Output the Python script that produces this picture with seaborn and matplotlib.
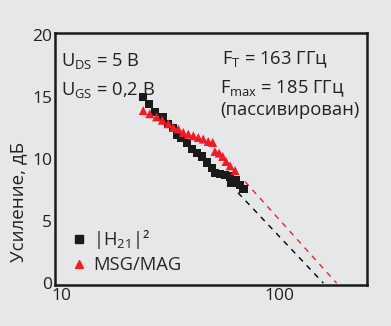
import matplotlib
matplotlib.use("Agg")
import matplotlib.pyplot as plt
import seaborn as sns
import pandas as pd
from matplotlib.lines import Line2D

# Data
h21_f = [23.7, 25.2, 26.9, 29.3, 30.9, 32.6, 33.8, 35.6, 37.6, 39.6, 41.8, 44.1,
         46.5, 49.0, 50.7, 53.5, 56.4, 59.5, 60.5, 63.4, 66.1, 68.5]
h21_y = [15.04, 14.47, 13.82, 13.39, 12.87, 12.52, 11.98, 11.71, 11.31, 10.85, 10.50, 10.23,
         9.74, 9.29, 8.88, 8.83, 8.74, 8.61, 8.07, 8.34, 7.94, 7.61]
msg_f = [23.7, 25.4, 27.3, 29.0, 30.9, 32.6, 34.4, 36.2, 38.2, 40.3, 42.5, 44.8,
         47.2, 49.5, 50.7, 53.0, 55.0, 57.0, 59.5, 62.7]
msg_y = [13.93, 13.68, 13.42, 13.15, 12.87, 12.57, 12.44, 12.17, 12.03, 11.90, 11.76, 11.63,
         11.44, 11.36, 10.63, 10.50, 10.23, 9.82, 9.47, 9.09]
ext_h21_f = [64.7, 160.0]
ext_h21_y = [7.3, 0.0]
ext_msg_f = [69.7, 184.0]
ext_msg_y = [8.2, 0.0]
xticks = [10, 100]
yticks = [0, 5, 10, 15, 20]

BG = "#e6e7e9"
sns.set_theme(style="white")
plt.rcParams['font.family'] = ['Open Sans', 'DejaVu Sans']
plt.rcParams['mathtext.fontset'] = 'custom'
plt.rcParams['mathtext.rm'] = 'Open Sans'
plt.rcParams['mathtext.it'] = 'Open Sans'

fig = plt.figure(figsize=(3.91, 3.26), dpi=100, facecolor=BG)
ax = fig.add_axes([0.1407, 0.1258, 0.7979, 0.773])
ax.set_facecolor(BG)

df_h = pd.DataFrame({"f": h21_f, "g": h21_y})
df_m = pd.DataFrame({"f": msg_f, "g": msg_y})

ax.plot(ext_h21_f, ext_h21_y, ls=(0, (4, 4)), color="black", lw=1.0, zorder=1)
ax.plot(ext_msg_f, ext_msg_y, ls=(0, (4, 4)), color="#e8252b", lw=1.0, zorder=1)
sns.scatterplot(data=df_h, x="f", y="g", marker="s", color="#1a1a1a", s=36,
                edgecolor="none", ax=ax, zorder=3)
sns.scatterplot(data=df_m, x="f", y="g", marker="^", color="#ee1c25", s=42,
                edgecolor="none", ax=ax, zorder=4)

ax.set_xscale("log")
ax.set_xlim(9.3, 254)
ax.set_ylim(-0.15, 20.2)
ax.set_xticks(xticks)
ax.set_xticklabels([str(t) for t in xticks])
ax.xaxis.set_minor_locator(matplotlib.ticker.NullLocator())
ax.set_yticks(yticks)
ax.tick_params(axis="both", length=0, labelsize=12.5, colors="#222222", pad=2)
ax.set_xlabel("")
ax.set_ylabel("Усиление, дБ", fontsize=13.5, color="#222222")
ax.yaxis.set_label_coords(-0.09, 0.33)
for sp in ax.spines.values():
    sp.set_color("#1a1a1a")
    sp.set_linewidth(1.8)

tc = "#222222"
fs = 13.2
ax.text(0.02, 0.89, "U$_{\\mathrm{DS}}$ = 5 В", transform=ax.transAxes, fontsize=fs, color=tc, va="center")
ax.text(0.02, 0.775, "U$_{\\mathrm{GS}}$ = 0,2 В", transform=ax.transAxes, fontsize=fs, color=tc, va="center")
ax.text(0.535, 0.895, "F$_{\\mathrm{T}}$ = 163 ГГц", transform=ax.transAxes, fontsize=fs, color=tc, va="center")
ax.text(0.529, 0.78, "F$_{\\mathrm{max}}$ = 185 ГГц", transform=ax.transAxes, fontsize=fs, color=tc, va="center")
ax.text(0.529, 0.695, "(пассивирован)", transform=ax.transAxes, fontsize=fs, color=tc, va="center")

handles = [Line2D([], [], marker="s", ls="none", color="#1a1a1a", markersize=5.5),
           Line2D([], [], marker="^", ls="none", color="#ee1c25", markersize=6)]
ax.legend(handles, ["|H$_{21}$|²", "MSG/MAG"], loc="lower left", frameon=False,
          fontsize=fs, handletextpad=0.25, borderaxespad=0.2, labelspacing=0.25,
          bbox_to_anchor=(0.013, 0.0), handlelength=1.0)

fig.savefig("out.png", dpi=100, facecolor=BG)
